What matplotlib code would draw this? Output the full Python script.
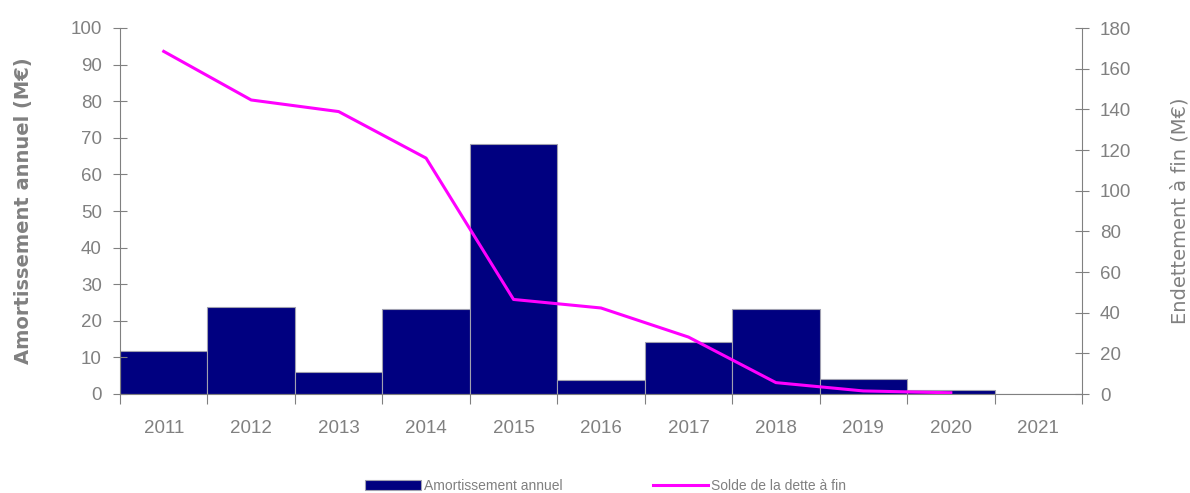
import matplotlib
matplotlib.use("Agg")
import matplotlib.pyplot as plt
import numpy as np

years = ["2011", "2012", "2013", "2014", "2015", "2016", "2017", "2018", "2019", "2020", "2021"]
amortissement = [11.8, 23.7, 6.0, 23.2, 68.4, 3.8, 14.2, 23.1, 4.2, 1.1, 0.0]
solde = [168.5, 144.6, 138.9, 116.0, 46.5, 42.3, 28.0, 5.6, 1.5, 0.6, np.nan]

grey = "#808080"
plt.rcParams["font.family"] = ["Liberation Sans", "DejaVu Sans"]

fig = plt.figure(figsize=(11.9, 4.93), dpi=100)
ax = fig.add_axes([120 / 1190, 1 - 394 / 493, (1082 - 120) / 1190, (394 - 28) / 493])
ax2 = ax.twinx()

x = np.arange(len(years))
bars = ax.bar(x, amortissement, width=1.0, color="#000080", edgecolor="#a0a0b0",
              linewidth=0.8, label="Amortissement annuel")
line, = ax2.plot(x, solde, color="#ff00ff", linewidth=2.2, label="Solde de la dette à fin")

ax.set_xlim(-0.5, len(years) - 0.5)
ax.set_ylim(0, 100)
ax2.set_ylim(0, 180)
ax.set_yticks(np.arange(0, 101, 10))
ax2.set_yticks(np.arange(0, 181, 20))

ax.set_xticks(np.arange(-0.5, len(years), 1.0))
ax.set_xticklabels([])
ax.set_xticks(x, minor=True)
ax.set_xticklabels(years, minor=True)
ax.tick_params(axis="x", which="major", direction="out", length=7, color=grey)
ax.tick_params(axis="x", which="minor", length=0, pad=19, labelsize=13.5, labelcolor=grey)
ax.tick_params(axis="y", direction="inout", length=10, color=grey, labelsize=13.5,
               labelcolor=grey, pad=8)
ax2.tick_params(axis="y", direction="inout", length=10, color=grey, labelsize=13.5,
                labelcolor=grey, pad=8)

for a in (ax, ax2):
    for s in a.spines.values():
        s.set_color(grey)
    a.spines["top"].set_visible(False)
ax.spines["right"].set_visible(False)
ax2.spines["left"].set_visible(False)
ax2.spines["bottom"].set_visible(False)

ax.set_ylabel("Amortissement annuel (M€)", color=grey, fontsize=14, fontweight="bold",
              family="DejaVu Sans", labelpad=27)
ax2.set_ylabel("Endettement à fin (M€)", color=grey, fontsize=14,
               family="DejaVu Sans", labelpad=28)

fig.legend([bars, line], ["Amortissement annuel", "Solde de la dette à fin"],
           loc="lower center", bbox_to_anchor=(0.509, -0.025), ncol=2, frameon=False,
           fontsize=10, labelcolor=grey, columnspacing=6.5, handlelength=4, handletextpad=0.2)

fig.savefig("out.png", dpi=100)
